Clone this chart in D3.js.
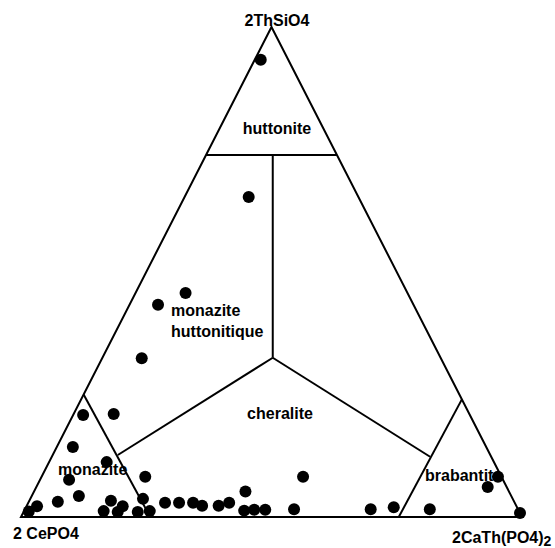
<!DOCTYPE html>
<html>
<head>
<meta charset="utf-8">
<script src="https://cdn.jsdelivr.net/npm/d3@7"></script>
<style>
  html, body { margin: 0; padding: 0; background: #fff; }
  svg { display: block; }
  text { font-family: "Liberation Sans", Arial, sans-serif; font-weight: bold; fill: #000; }
</style>
</head>
<body>
<div id="chart"></div>
<script>
// ---- data (ternary fractions: b = 2CaTh(PO4)2, c = 2ThSiO4, a = 1 - b - c = 2 CePO4) ----
const cornerLabels = ["2 CePO4", "2CaTh(PO4)", "2ThSiO4"];
const regionNames = ["huttonite", "monazite", "huttonitique", "cheralite", "monazite", "brabantite"];

const ptCaTh = [0.012, 0.128, 0.100, 0.057, 0.079, 0.020, 0.080, 0.032, 0.115, 0.207,
                0.058, 0.094, 0.058, 0.021, 0.010, 0.163, 0.159, 0.192, 0.188, 0.225,
                0.228, 0.251, 0.273, 0.301, 0.329, 0.350, 0.383, 0.401, 0.422, 0.439,
                0.458, 0.480, 0.522, 0.537, 0.690, 0.734, 0.808, 0.901, 0.911, 0.992];
const ptThSi = [0.933, 0.653, 0.457, 0.433, 0.324, 0.208, 0.210, 0.143, 0.112, 0.082,
                0.076, 0.043, 0.031, 0.022, 0.011, 0.033, 0.012, 0.022, 0.010, 0.037,
                0.010, 0.012, 0.029, 0.029, 0.029, 0.023, 0.023, 0.029, 0.052, 0.013,
                0.015, 0.015, 0.082, 0.016, 0.016, 0.020, 0.016, 0.061, 0.082, 0.008];

// field boundaries, as [CaTh, ThSi] pairs
const outline = [[0, 0], [1, 0], [0, 1]];
const center = [0.340, 0.325];
const boundaries = [
  [[0.000, 0.739], [0.261, 0.739]],   // huttonite field
  [[0.133, 0.739], center],           // monazite huttonitique / cheralite
  [center, [0.130, 0.1265]],          // towards monazite
  [center, [0.755, 0.123]],           // towards brabantite
  [[0.000, 0.250], [0.258, 0.000]],   // monazite field
  [[0.760, 0.240], [0.754, 0.000]]    // brabantite field
];

// ---- drawing ----
const W = 555, H = 548;
const svg = d3.select("#chart").append("svg").attr("width", W).attr("height", H);

const xScale = d3.scaleLinear().domain([0, 1]).range([21, 522]);
const yScale = d3.scaleLinear().domain([0, 1]).range([517, 27]);
const proj = ([b, c]) => [xScale(b + c / 2), yScale(c)];
const line = d3.line().x(d => proj(d)[0]).y(d => proj(d)[1]);

svg.append("path")
  .attr("d", line(outline) + "Z")
  .attr("fill", "none").attr("stroke", "#000").attr("stroke-width", 2)
  .attr("stroke-linejoin", "miter");

svg.selectAll("path.bnd").data(boundaries).enter().append("path")
  .attr("class", "bnd")
  .attr("d", d => line(d))
  .attr("fill", "none").attr("stroke", "#000").attr("stroke-width", 2);

const pts = ptCaTh.map((b, i) => [b, ptThSi[i]]);
svg.selectAll("circle.pt").data(pts).enter().append("circle")
  .attr("class", "pt")
  .attr("cx", d => proj(d)[0])
  .attr("cy", d => proj(d)[1])
  .attr("r", 6)
  .attr("fill", "#000");

// region labels
const fs = "16px";
svg.append("text").attr("x", 277).attr("y", 134).attr("text-anchor", "middle").style("font-size", fs).text(regionNames[0]);
svg.append("text").attr("x", 171).attr("y", 316).style("font-size", fs).text(regionNames[1]);
svg.append("text").attr("x", 171).attr("y", 337).style("font-size", fs).text(regionNames[2]);
svg.append("text").attr("x", 280).attr("y", 419).attr("text-anchor", "middle").style("font-size", fs).text(regionNames[3]);
svg.append("text").attr("x", 58).attr("y", 475).style("font-size", fs).text(regionNames[4]);
svg.append("text").attr("x", 425).attr("y", 481).style("font-size", fs).text(regionNames[5]);

// corner labels
svg.append("text").attr("x", 13).attr("y", 539).style("font-size", fs).text(cornerLabels[0]);
const br = svg.append("text").attr("x", 452).attr("y", 543).style("font-size", fs);
br.append("tspan").text(cornerLabels[1]);
br.append("tspan").attr("dy", 3).style("font-size", "14px").text("2");
svg.append("text").attr("x", 277).attr("y", 26).attr("text-anchor", "middle").style("font-size", fs).text(cornerLabels[2]);
</script>
</body>
</html>
